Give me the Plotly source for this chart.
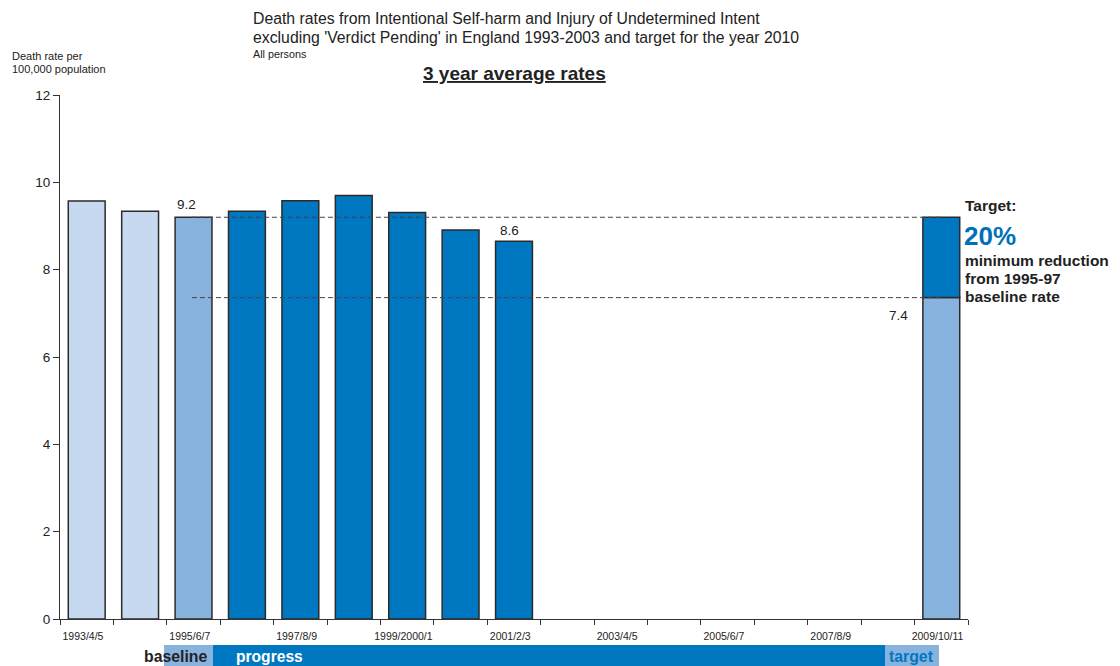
import plotly.graph_objects as go

# ---- data ----
periods = ["1993/4/5", "1994/5/6", "1995/6/7", "1996/7/8", "1997/8/9", "1998/9/2000",
           "1999/2000/1", "2000/1/2", "2001/2/3", "2002/3/4", "2003/4/5", "2004/5/6",
           "2005/6/7", "2006/7/8", "2007/8/9", "2008/9/10", "2009/10/11"]
rates = [9.57, 9.34, 9.20, 9.34, 9.58, 9.70, 9.31, 8.91, 8.65]   # 1993/4/5 .. 2001/2/3
baseline_rate = 9.2          # 1995-97 baseline
target_rate = 7.36           # 20% reduction target for 2009/10/11
baseline_label = "9.2"
latest_label = "8.6"
target_label = "7.4"
y_ticks = [0, 2, 4, 6, 8, 10, 12]

LIGHT = "#C6D9F0"
MID = "#88B3DE"
DARK = "#0077C1"
EDGE = "#2b2b2b"
TXT = "#222222"
FONT = "Liberation Sans, Arial, sans-serif"

n = len(periods)
xs = list(range(n))
bar_colors = [LIGHT, LIGHT, MID] + [DARK] * (len(rates) - 3)

# plot area in pixels
L, R, T, B = 60, 968, 95, 619
W, H = 1120, 666
def px(x):
    return (x - L) / (R - L)
def py(y):
    return (B - y) / (B - T)

fig = go.Figure()

# observed bars
fig.add_trace(go.Bar(
    x=xs[:len(rates)], y=rates, width=0.69,
    marker=dict(color=bar_colors, line=dict(color=EDGE, width=1.5)),
    showlegend=False, hoverinfo="skip"))
# target bar: lower part (target) + upper part (reduction)
tgt_idx = n - 1
fig.add_trace(go.Bar(
    x=[tgt_idx], y=[target_rate], width=0.69,
    marker=dict(color=MID, line=dict(color=EDGE, width=1.5)),
    showlegend=False, hoverinfo="skip"))
fig.add_trace(go.Bar(
    x=[tgt_idx], y=[baseline_rate - target_rate], base=[target_rate], width=0.69,
    marker=dict(color=DARK, line=dict(color=EDGE, width=1.5)),
    showlegend=False, hoverinfo="skip"))
# invisible trace to carry the boundary-tick axis
fig.add_trace(go.Scatter(x=[-0.5, n - 0.5], y=[0, 0], xaxis="x2", yaxis="y",
                         mode="markers", marker=dict(opacity=0), showlegend=False,
                         hoverinfo="skip"))

# dashed reference lines
for yv in (baseline_rate, target_rate):
    fig.add_shape(type="line", xref="x", yref="y", x0=1.97, x1=tgt_idx, y0=yv, y1=yv,
                  line=dict(color="#444444", width=1, dash="5px,3px"), layer="above")

# bottom band
band_y0, band_y1 = py(666), py(645)
fig.add_shape(type="rect", xref="paper", yref="paper", x0=px(164), x1=px(213),
              y0=band_y0, y1=band_y1, fillcolor=MID, line=dict(width=0), layer="below")
fig.add_shape(type="rect", xref="paper", yref="paper", x0=px(213), x1=px(885),
              y0=band_y0, y1=band_y1, fillcolor=DARK, line=dict(width=0), layer="below")
fig.add_shape(type="rect", xref="paper", yref="paper", x0=px(885), x1=px(939),
              y0=band_y0, y1=band_y1, fillcolor=MID, line=dict(width=0), layer="below")

ann = []
def text(x, y, s, size, color=TXT, xanchor="left", yanchor="middle", xref="paper",
         yref="paper", xshift=0, yshift=0):
    ann.append(dict(x=x, y=y, xref=xref, yref=yref, text=s, showarrow=False,
                    xanchor=xanchor, yanchor=yanchor, xshift=xshift, yshift=yshift,
                    font=dict(family=FONT, size=size, color=color)))

text(px(251), py(18), "Death rates from Intentional Self-harm and Injury of Undetermined Intent", 15.8)
text(px(251), py(37), "excluding 'Verdict Pending' in England 1993-2003 and target for the year 2010", 15.8)
text(px(251), py(54), "All persons", 10.8)
text(px(10), py(56), "Death rate per", 11)
text(px(10), py(69), "100,000 population", 11)
text(px(514), py(73), "<b><u>3 year average rates</u></b>", 19, xanchor="center")

# value labels
text(2, rates[2], baseline_label, 13.5, xanchor="center", yanchor="bottom", xref="x",
     yref="y", xshift=-7, yshift=3)
text(len(rates) - 1, rates[-1], latest_label, 13.5, xanchor="center", yanchor="bottom",
     xref="x", yref="y", xshift=-5, yshift=1)
text(px(910), py(315), target_label, 13.5, xanchor="right")

# target text on the right
text(px(963), py(205), "<b>Target:</b>", 15.5)
text(px(962), py(236), "<b>20%</b>", 26, color="#0070B8")
text(px(963), py(260), "<b>minimum reduction</b>", 15.5)
text(px(963), py(278), "<b>from 1995-97</b>", 15.5)
text(px(963), py(296), "<b>baseline rate</b>", 15.5)

# band texts
text(px(175), py(656), "<b>baseline</b>", 15.8, xanchor="center")
text(px(269), py(656), "<b>progress</b>", 15.6, color="white", xanchor="center")
text(px(911), py(656), "<b>target</b>", 15.8, color=DARK, xanchor="center")

fig.update_layout(
    width=W, height=H,
    margin=dict(l=L, r=W - R, t=T, b=H - B),
    paper_bgcolor="white", plot_bgcolor="white",
    barmode="overlay",
    annotations=ann,
    font=dict(family=FONT, color=TXT),
    xaxis=dict(range=[-0.5, n - 0.5], showgrid=False, zeroline=False,
               showline=True, linecolor="#333333", linewidth=1,
               tickvals=[v - 0.07 for v in xs[::2]], ticktext=periods[::2], ticks="",
               ticklabelstandoff=7,
               tickfont=dict(size=10.5, color=TXT)),
    xaxis2=dict(range=[-0.5, n - 0.5], overlaying="x", anchor="y", side="bottom",
                showgrid=False, zeroline=False, showline=False, showticklabels=False,
                tickvals=[i - 0.5 for i in range(n + 1)], ticks="outside",
                ticklen=5, tickcolor="#333333", tickwidth=1),
    yaxis=dict(range=[0, 12], showgrid=False, zeroline=False,
               showline=True, linecolor="#333333", linewidth=1,
               tickvals=y_ticks, ticks="outside", ticklen=6, tickcolor="#333333",
               tickfont=dict(size=13.5, color=TXT)),
)

fig.write_html("out.html")
